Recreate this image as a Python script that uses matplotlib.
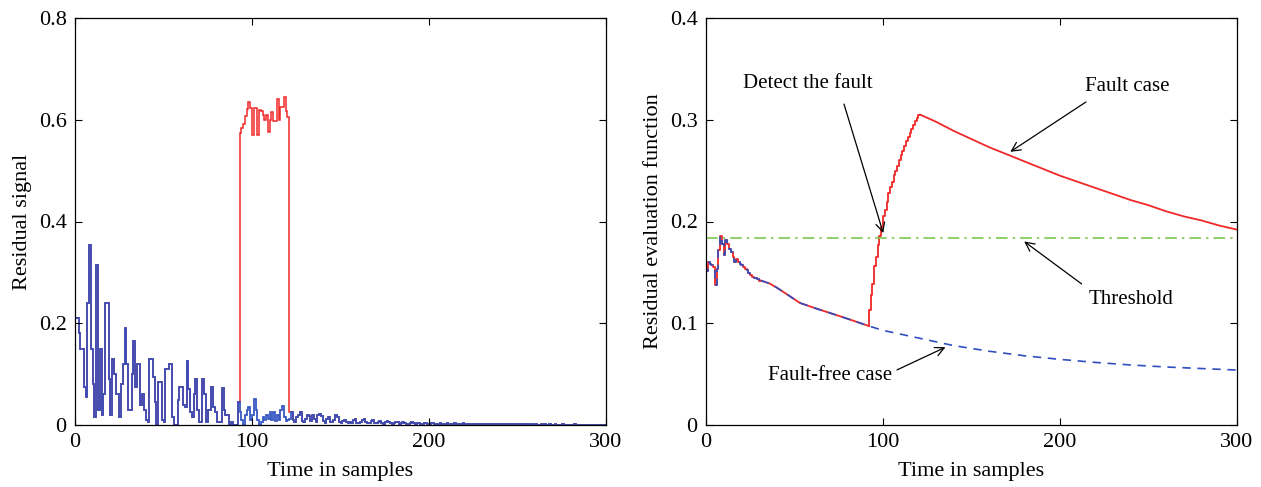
import matplotlib
matplotlib.use("Agg")
import matplotlib.pyplot as plt
import numpy as np

plt.rcParams['font.family'] = ['Liberation Serif', 'DejaVu Serif']

# ---------------- Left panel data (residual signal, per sample) ----------------
resid_free = [
    0.21, 0.21, 0.18, 0.15, 0.15, 0.075, 0.055, 0.24, 0.354, 0.15,
    0.08, 0.015, 0.315, 0.03, 0.15, 0.02, 0.06, 0.24, 0.24, 0.09,
    0.02, 0.13, 0.10, 0.06, 0.06, 0.015, 0.08, 0.12, 0.19, 0.12,
    0.03, 0.03, 0.10, 0.165, 0.075, 0.12, 0.12, 0.04, 0.06, 0.03,
    0.01, 0.005, 0.13, 0.13, 0.095, 0.045, 0.0, 0.085, 0.085, 0.01,
    0.005, 0.11, 0.11, 0.12, 0.12, 0.015, 0.0, 0.0, 0.05, 0.075,
    0.075, 0.04, 0.035, 0.125, 0.07, 0.025, 0.015, 0.06, 0.09, 0.03,
    0.005, 0.005, 0.09, 0.06, 0.005, 0.03, 0.03, 0.075, 0.035, 0.025,
    0.005, 0.005, 0.005, 0.072, 0.03, 0.02, 0.02, 0.0, 0.005, 0.0,
    0.0, 0.0, 0.045, 0.025, 0.01, 0.0, 0.02, 0.03, 0.035, 0.01,
    0.02, 0.052, 0.03, 0.01, 0.0, 0.005, 0.015, 0.01, 0.02, 0.012,
    0.025, 0.01, 0.026, 0.008, 0.02, 0.01, 0.03, 0.037, 0.015, 0.008,
    0.01, 0.012, 0.026, 0.01, 0.005, 0.015, 0.02, 0.025, 0.008, 0.005,
    0.012, 0.02, 0.018, 0.008, 0.02, 0.012, 0.006, 0.02, 0.021, 0.018,
    0.008, 0.004, 0.012, 0.015, 0.006, 0.005, 0.01, 0.02, 0.015, 0.005,
    0.004, 0.008, 0.01, 0.006, 0.004, 0.005, 0.003, 0.01, 0.012, 0.004,
    0.003, 0.006, 0.009, 0.012, 0.005, 0.003, 0.004, 0.008, 0.01, 0.004,
    0.003, 0.006, 0.008, 0.004, 0.002, 0.005, 0.007, 0.006, 0.003, 0.002,
    0.004, 0.006, 0.005, 0.002, 0.003, 0.005, 0.004, 0.002, 0.001, 0.003,
    0.005, 0.004, 0.002, 0.003, 0.004, 0.002, 0.001, 0.003, 0.004, 0.002,
    0.001, 0.003, 0.004, 0.002, 0.001, 0.002, 0.003, 0.002, 0.001, 0.002,
    0.003, 0.002, 0.001, 0.002, 0.003, 0.002, 0.001, 0.001, 0.002, 0.003,
    0.002, 0.001, 0.001, 0.002, 0.002, 0.001, 0.001, 0.002, 0.001, 0.001,
    0.002, 0.001, 0.001, 0.002, 0.001, 0.001, 0.001, 0.002, 0.001, 0.001,
    0.001, 0.002, 0.001, 0.001, 0.001, 0.001, 0.002, 0.001, 0.001, 0.001,
    0.001, 0.0005, 0.001, 0.001, 0.0005, 0.001, 0.0005, 0.001, 0.001, 0.0005,
    0.001, 0.0005, 0.0005, 0.001, 0.0005, 0.001, 0.0005, 0.0005, 0.001, 0.0005,
    0.0005, 0.001, 0.0005, 0.0005, 0.0005, 0.001, 0.0005, 0.0005, 0.0005, 0.0005,
    0.0005, 0.0005, 0.001, 0.0005, 0.0005, 0.0005, 0.0005, 0.0005, 0.0005, 0.0005,
    0.0005, 0.0005, 0.0005, 0.0005, 0.0005, 0.0005, 0.0005, 0.0005, 0.0005, 0.0005,
]
fault_start = 93
fault_values = [
    0.573, 0.583, 0.591, 0.608, 0.621, 0.635, 0.624, 0.57, 0.623, 0.623,
    0.57, 0.62, 0.618, 0.61, 0.60, 0.61, 0.575, 0.60, 0.615, 0.598,
    0.597, 0.64, 0.60, 0.625, 0.625, 0.645, 0.618, 0.605,
]
post_fault_blip = [0.026, 0.026]   # samples 121, 122 of fault case

# ---------------- Right panel data (residual evaluation function) ----------------
eval_early = [0.0, 0.151, 0.16, 0.158, 0.157, 0.155, 0.138, 0.153, 0.172, 0.186,
              0.178, 0.167, 0.182, 0.178, 0.173, 0.17, 0.165, 0.16, 0.163, 0.16,
              0.158, 0.157, 0.155, 0.153, 0.152, 0.149, 0.147, 0.145, 0.144, 0.144,
              0.143, 0.142]
eval_decay_s = [31, 36, 40, 47, 53, 62, 72, 81, 92]
eval_decay_v = [0.142, 0.139, 0.135, 0.127, 0.120, 0.1146, 0.109, 0.1038, 0.0973]
rise_values = [0.0973, 0.113, 0.128, 0.139, 0.156, 0.165, 0.177, 0.186, 0.195, 0.205,
               0.211, 0.219, 0.228, 0.234, 0.239, 0.246, 0.25, 0.255, 0.26, 0.265,
               0.269, 0.274, 0.279, 0.283, 0.287, 0.291, 0.295, 0.299, 0.302, 0.305]
fault_decay_s = [121, 130, 140, 150, 160, 170, 180, 190, 200, 210, 220, 230, 240,
                 250, 260, 270, 280, 290, 300]
fault_decay_v = [0.305, 0.298, 0.289, 0.281, 0.273, 0.266, 0.259, 0.252, 0.245,
                 0.239, 0.233, 0.227, 0.221, 0.216, 0.210, 0.205, 0.201, 0.196, 0.192]
free_decay_s = [92, 100, 120, 140, 160, 180, 200, 220, 240, 260, 280, 300]
free_decay_v = [0.0973, 0.093, 0.0855, 0.078, 0.0725, 0.068, 0.0645, 0.0615,
                0.059, 0.057, 0.0555, 0.054]
threshold = 0.184

RED = '#f02828'
BLUE = '#2f4fbf'
GREEN = '#7cc850'
FS = 16
FS_ANN = 15

fig = plt.figure(figsize=(12.61, 4.87), dpi=100)
ax1 = fig.add_axes([75/1261, 1-425/487, 531/1261, 407/487])
ax2 = fig.add_axes([706/1261, 1-425/487, 531/1261, 407/487])

# Left panel
free = np.array(resid_free)
fault = free.copy()
fault[fault_start:fault_start+len(fault_values)] = fault_values
b0 = fault_start + len(fault_values)
fault[b0:b0+len(post_fault_blip)] = post_fault_blip
edges = np.arange(len(free)+1)
ax1.stairs(fault, edges, color=RED, lw=1.1, baseline=None)
ax1.stairs(free, edges, color=BLUE, lw=1.3, alpha=0.95, baseline=None)
ax1.plot([0, 0], [0, free[0]], color=BLUE, lw=1.3, alpha=0.95)
ax1.set_xlim(0, 300)
ax1.set_ylim(0, 0.8)
ax1.set_yticks([0, 0.2, 0.4, 0.6, 0.8])
ax1.set_yticklabels(['0', '0.2', '0.4', '0.6', '0.8'])
ax1.set_ylabel('Residual signal', fontsize=FS, labelpad=5)

# Right panel
xe = np.arange(len(eval_early))
ax2.plot(xe, eval_early, drawstyle='steps-pre', color=RED, lw=1.3)
ax2.plot(eval_decay_s, eval_decay_v, color=RED, lw=1.3)
xr = np.arange(92, 92+len(rise_values))
ax2.plot(xr, rise_values, drawstyle='steps-pre', color=RED, lw=1.3)
ax2.plot(fault_decay_s, fault_decay_v, color=RED, lw=1.3)

ax2.plot(xe, eval_early, drawstyle='steps-pre', color=BLUE, lw=1.2, ls=(0, (5, 4)))
ax2.plot(eval_decay_s + free_decay_s[1:], eval_decay_v + free_decay_v[1:],
         color=BLUE, lw=1.2, ls=(0, (5, 4)))
ax2.plot([0, 300], [threshold, threshold], color=GREEN, lw=1.2, ls=(0, (7, 3, 1.5, 3)))
ax2.set_xlim(0, 300)
ax2.set_ylim(0, 0.4)
ax2.set_yticks([0, 0.1, 0.2, 0.3, 0.4])
ax2.set_yticklabels(['0', '0.1', '0.2', '0.3', '0.4'])
ax2.set_ylabel('Residual evaluation function', fontsize=FS, labelpad=5)

ap = dict(arrowstyle='->', color='black', lw=0.9, mutation_scale=16)
ax2.text(57.5, 0.336, 'Detect the fault', ha='center', va='center', fontsize=FS_ANN)
ax2.annotate('', xy=(100.6, 0.186), xytext=(77.5, 0.318), arrowprops=ap)
ax2.text(238, 0.333, 'Fault case', ha='center', va='center', fontsize=FS_ANN)
ax2.annotate('', xy=(170.6, 0.267), xytext=(216, 0.319), arrowprops=ap)
ax2.text(240, 0.123, 'Threshold', ha='center', va='center', fontsize=FS_ANN)
ax2.annotate('', xy=(178.5, 0.182), xytext=(213.5, 0.137), arrowprops=ap)
ax2.text(70, 0.049, 'Fault-free case', ha='center', va='center', fontsize=FS_ANN)
ax2.annotate('', xy=(136.7, 0.0776), xytext=(106.5, 0.053), arrowprops=ap)

for ax in (ax1, ax2):
    ax.set_xticks([0, 100, 200, 300])
    ax.set_xlabel('Time in samples', fontsize=FS, labelpad=7)
    ax.tick_params(direction='in', top=True, right=True, length=5, width=0.8,
                   labelsize=FS, pad=6)
    for sp in ax.spines.values():
        sp.set_linewidth(0.9)

fig.savefig('out.png', dpi=100)
